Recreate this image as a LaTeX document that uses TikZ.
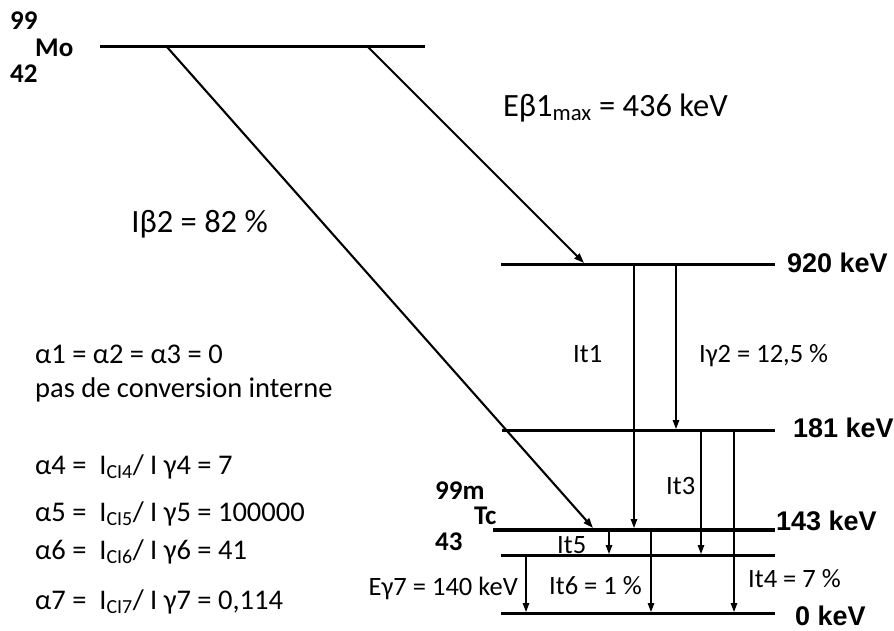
\documentclass[tikz,border=0pt]{standalone}
\usepackage{fontspec}
\setmainfont{Carlito}
\newfontfamily\arialfont{Liberation Sans}
\usetikzlibrary{arrows.meta}
\begin{document}
\begin{tikzpicture}[x=1pt,y=-1pt,
  lvl/.style={line width=3pt},
  lvlthick/.style={line width=4.4pt},
  betaline/.style={line width=2.1pt,-{Triangle[length=10pt,width=7pt]}},
  trans/.style={line width=1.3pt,-{Triangle[length=9pt,width=6.5pt]}},
  txtbig/.style={font=\fontsize{32.5}{34}\selectfont,inner sep=0pt},
  txtleft/.style={font=\fontsize{28.5}{30}\selectfont,inner sep=0pt,anchor=base west},
  txtlab/.style={font=\fontsize{26.5}{28}\selectfont,inner sep=0pt,anchor=base west},
  nucl/.style={font=\fontsize{27}{28}\selectfont\bfseries,inner sep=0pt,anchor=base west},
  energy/.style={font=\arialfont\fontsize{27}{29}\selectfont\bfseries,inner sep=0pt,anchor=base west}
]
\useasboundingbox (0,0) rectangle (894,631);

% levels
\coordinate (Moa) at (100,47);   \coordinate (Mob) at (425,47);
\coordinate (Na) at (501,264);   \coordinate (Nb) at (775,264);
\coordinate (Ea) at (502,430);   \coordinate (Eb) at (775,430);
\coordinate (Fa) at (493,530);   \coordinate (Fb) at (775,530);
\coordinate (Ga) at (501,555);   \coordinate (Gb) at (775,555);
\coordinate (Za) at (501,613);   \coordinate (Zb) at (775,613);
\draw[lvl] (Moa) -- (Mob);
\draw[lvl] (Na) -- (Nb);
\draw[lvl] (Ea) -- (Eb);
\draw[lvlthick] (Fa) -- (Fb);
\draw[lvl] (Ga) -- (Gb);
\draw[lvl] (Za) -- (Zb);

% beta transitions
\coordinate (b1s) at (368,47);  \coordinate (b1e) at (584,263);
\coordinate (b2s) at (167,47);  \coordinate (b2e) at (593,528);
\draw[betaline] (b1s) -- (b1e);
\draw[betaline] (b2s) -- (b2e);

% gamma transitions
\coordinate (t1s) at (634,264); \coordinate (t1e) at (634,528);
\coordinate (g2s) at (676,264); \coordinate (g2e) at (676,429);
\coordinate (t3s) at (701,430); \coordinate (t3e) at (701,554);
\coordinate (t4s) at (734,430); \coordinate (t4e) at (734,612);
\coordinate (t5s) at (609,531); \coordinate (t5e) at (609,554);
\coordinate (t6s) at (651,531); \coordinate (t6e) at (651,612);
\coordinate (t7s) at (526,555); \coordinate (t7e) at (526,612);
\draw[trans] (t1s) -- (t1e);
\draw[trans] (g2s) -- (g2e);
\draw[trans] (t3s) -- (t3e);
\draw[trans] (t4s) -- (t4e);
\draw[trans] (t5s) -- (t5e);
\draw[trans] (t6s) -- (t6e);
\draw[trans] (t7s) -- (t7e);

% nuclide labels
\node[nucl] (mo99) at (10,30) {99};
\node[nucl] (mo) at (35,57) {Mo};
\node[nucl] (mo42) at (10,83) {42};
\node[nucl] (tc99) at (435,499) {99m};
\node[nucl] (tc) at (474,524) {Tc};
\node[nucl] (tc43) at (435,550) {43};

% energy labels
\node[energy] (e920) at (787,272) {920 keV};
\node[energy] (e181) at (793,437) {181 keV};
\node[energy] (e143) at (776,530) {143 keV};
\node[energy] (e0) at (795,625) {0 keV};

% beta labels
\node[txtbig,anchor=base east] (lb1) at (728,117) {Eβ1\textsubscript{max} = 436 keV};
\node[txtbig,anchor=base east] (lb2) at (268,233) {Iβ2 = 82 \%};

% transition labels
\node[txtlab] (l1) at (573,362) {It1};
\node[txtlab] (l2) at (699,362) {Iγ2 = 12,5 \%};
\node[txtlab] (l3) at (666,494) {It3};
\node[txtlab] (l5) at (557,553) {It5};
\node[txtlab] (l6) at (549,594) {It6 = 1 \%};
\node[txtlab] (l4) at (748,587) {It4 = 7 \%};
\node[txtlab,anchor=base east] (l7) at (518,595) {Eγ7 = 140 keV};

% left texts
\node[txtleft] (a1) at (35,363) {α1 = α2 = α3 = 0};
\node[txtleft] (a0) at (35,397) {pas de conversion interne};
\node[txtleft] (a4) at (35,474) {α4 =\ \ I\textsubscript{CI4}/ I γ4 = 7};
\node[txtleft] (a5) at (35,521) {α5 =\ \ I\textsubscript{CI5}/ I γ5 = 100000};
\node[txtleft] (a6) at (35,559) {α6 =\ \ I\textsubscript{CI6}/ I γ6 = 41};
\node[txtleft] (a7) at (35,609) {α7 =\ \ I\textsubscript{CI7}/ I γ7 = 0,114};
\end{tikzpicture}
\end{document}
